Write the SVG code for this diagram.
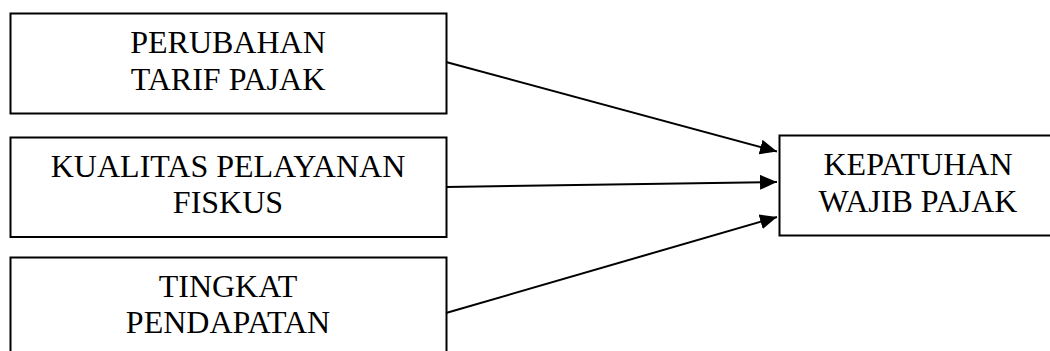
<svg xmlns="http://www.w3.org/2000/svg" width="1050" height="351" viewBox="0 0 1050 351">
<style>
.box{fill:#fff;stroke:#000;stroke-width:2}
.t{font-family:"Liberation Serif","Times New Roman",serif;font-size:32px;fill:#000;text-anchor:middle}
.c{stroke:#000;stroke-width:2;fill:none;marker-end:url(#ah)}
</style>
<defs>
<marker id="ah" markerUnits="userSpaceOnUse" markerWidth="18" markerHeight="16" refX="17" refY="7.5" orient="auto">
<path d="M0,0 L17,7.5 L0,15 Z" fill="#000"/>
</marker>
</defs>
<rect width="1050" height="351" fill="#fff"/>
<g id="n1">
<rect class="box" x="10.5" y="13.5" width="436" height="100"/>
<text class="t" x="228" y="53">PERUBAHAN</text>
<text class="t" x="228" y="90">TARIF PAJAK</text>
</g>
<g id="n2">
<rect class="box" x="10.5" y="137.5" width="436" height="99.5"/>
<text class="t" x="228" y="177">KUALITAS PELAYANAN</text>
<text class="t" x="228" y="213">FISKUS</text>
</g>
<g id="n3">
<rect class="box" x="10.5" y="257.5" width="436" height="110"/>
<text class="t" x="228" y="297">TINGKAT</text>
<text class="t" x="228" y="333">PENDAPATAN</text>
</g>
<g id="n4">
<rect class="box" x="779.5" y="135.5" width="280" height="100"/>
<text class="t" x="918" y="175">KEPATUHAN</text>
<text class="t" x="918" y="212">WAJIB PAJAK</text>
</g>
<g id="connectors">
<line class="c" x1="446" y1="62" x2="777" y2="151.5"/>
<line class="c" x1="446" y1="187" x2="777" y2="182"/>
<line class="c" x1="446" y1="313" x2="777" y2="217"/>
</g>
</svg>
